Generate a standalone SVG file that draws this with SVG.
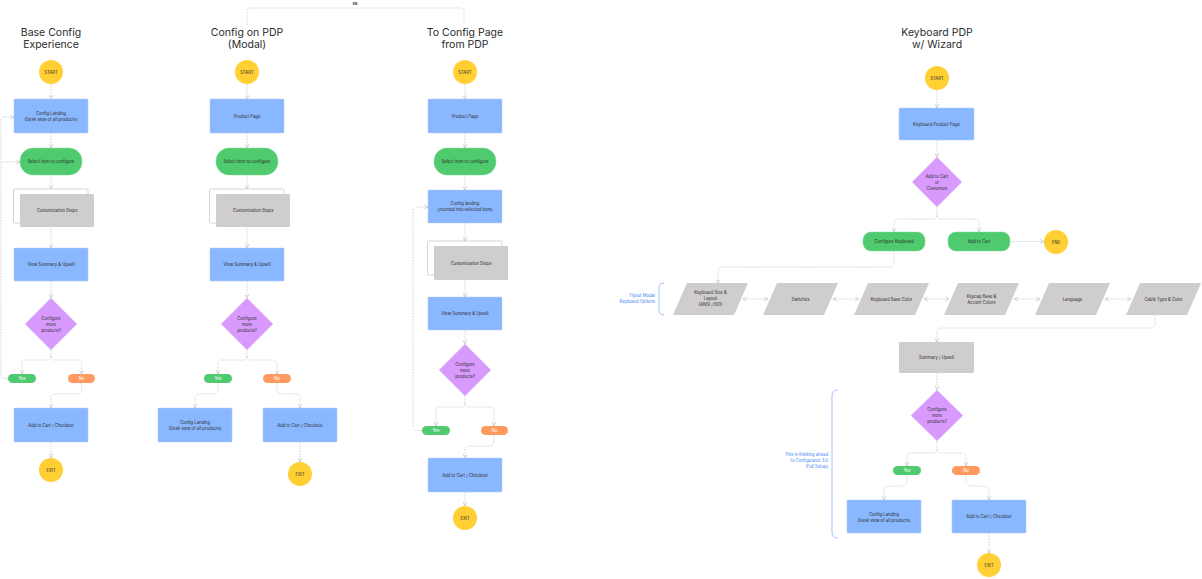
<svg xmlns="http://www.w3.org/2000/svg" width="1202" height="579" viewBox="0 0 1202 579">
<style>
.title{font-family:Inter,"Liberation Sans",sans-serif;font-size:10.5px;fill:#2b2b2b;text-anchor:middle}
.t{font-family:Inter,"Liberation Sans",sans-serif;font-size:4.2px;fill:#2a2a2a;text-anchor:middle}
.tw{font-family:Inter,"Liberation Sans",sans-serif;font-size:4.2px;fill:#ffffff;text-anchor:middle}
.tb{font-family:Inter,"Liberation Sans",sans-serif;font-size:4.2px;fill:#3b7ff0;text-anchor:end}
.circ{fill:#FFCF33}
.box{fill:#8AB8FF;stroke:#a9c9ff;stroke-width:0.5}
.pill{fill:#4FCA6E;stroke:#7fdc96;stroke-width:0.5}
.dia{fill:#D89BFD}
.yes{fill:#4FCA6E}
.no{fill:#FF9B5E}
.gray{fill:#CFCDCE}
.outline{fill:#ffffff;stroke:#c9c9c9;stroke-width:0.8}
.c{fill:none;stroke:#c4c4c4;stroke-width:0.7;stroke-dasharray:1.6 1.2;marker-end:url(#ah)}
.cn{fill:none;stroke:#c4c4c4;stroke-width:0.7;stroke-dasharray:1.6 1.2}
.cd{fill:none;stroke:#c4c4c4;stroke-width:0.7;stroke-dasharray:1.6 1.2;marker-end:url(#ah);marker-start:url(#ah)}
.br{fill:none;stroke:#8db5f7;stroke-width:0.8}
</style>
<defs>
<marker id="ah" viewBox="0 0 6 6" refX="5.2" refY="3" markerWidth="5" markerHeight="5" orient="auto-start-reverse" markerUnits="userSpaceOnUse">
<path d="M0.6,0.6 L5.2,3 L0.6,5.4" fill="none" stroke="#bcbcbc" stroke-width="0.8"/>
</marker>
</defs>
<rect width="1202" height="579" fill="#ffffff"/>

<!-- Titles -->
<g id="titles">
<text class="title" x="51" y="36">Base Config</text>
<text class="title" x="51" y="47.5">Experience</text>
<text class="title" x="247" y="36">Config on PDP</text>
<text class="title" x="247" y="47.5">(Modal)</text>
<text class="title" x="465" y="36">To Config Page</text>
<text class="title" x="465" y="47.5">from PDP</text>
<text class="title" x="937" y="36">Keyboard PDP</text>
<text class="title" x="937" y="47.5">w/ Wizard</text>
<text class="t" x="355" y="4.5" font-weight="bold">vs</text>
</g>

<!-- Connectors -->
<g id="connectors">
<path class="cn" d="M247,25 V12 Q247,8 251,8 H460 Q464,8 464,12 V22"/>
<!-- col1 -->
<path class="c" d="M51,84 V99"/>
<path class="c" d="M51,133 V148"/>
<path class="c" d="M51,175 V189"/>
<path class="c" d="M51,228 V248"/>
<path class="c" d="M51,281 V298"/>
<path class="c" d="M51,350 V356 Q51,360 47,360 H26 Q22,360 22,364 V374"/>
<path class="c" d="M51,356 Q51,360 55,360 H77.5 Q81.5,360 81.5,364 V374"/>
<path class="c" d="M81.5,383 V389 Q81.5,394 76.5,394 H56 Q51,394 51,399 V408"/>
<path class="c" d="M51,442 V458"/>
<path class="c" d="M8,378.5 H5 Q1,378.5 1,374.5 V121 Q1,117 5,117 H14"/>
<path class="c" d="M1,162 H20"/>
<!-- col2 -->
<path class="c" d="M247,84 V99"/>
<path class="c" d="M247,133 V148"/>
<path class="c" d="M247,175 V189"/>
<path class="c" d="M247,228 V248"/>
<path class="c" d="M247,281 V298"/>
<path class="c" d="M247,350 V356 Q247,360 243,360 H222 Q218,360 218,364 V374"/>
<path class="c" d="M247,356 Q247,360 251,360 H273 Q277,360 277,364 V374"/>
<path class="c" d="M218,383 V389 Q218,394 213,394 H200 Q195,394 195,399 V408"/>
<path class="c" d="M277,383 V389 Q277,394 282,394 H295 Q300,394 300,399 V408"/>
<path class="c" d="M300,442 V462"/>
<!-- col3 -->
<path class="c" d="M465,84 V99"/>
<path class="c" d="M465,133 V148"/>
<path class="c" d="M465,175 V190"/>
<path class="c" d="M465,223 V241"/>
<path class="c" d="M465,280 V297"/>
<path class="c" d="M465,330 V344"/>
<path class="c" d="M465,396 V403 Q465,407 461,407 H440 Q436,407 436,411 V426"/>
<path class="c" d="M465,403 Q465,407 469,407 H490 Q494,407 494,411 V426"/>
<path class="c" d="M494,435 V441 Q494,446 489,446 H470 Q465,446 465,451 V458"/>
<path class="c" d="M465,492 V506"/>
<path class="c" d="M422,430.5 H417 Q413,430.5 413,426.5 V211 Q413,207 417,207 H428"/>
<!-- col4 -->
<path class="c" d="M937,90 V108"/>
<path class="c" d="M937,140 V157"/>
<path class="c" d="M937,207 V215 Q937,219 933,219 H898 Q894,219 894,223 V232"/>
<path class="c" d="M937,215 Q937,219 941,219 H975 Q979,219 979,223 V232"/>
<path class="c" d="M1010,241.5 H1044"/>
<path class="c" d="M894,251 V263 Q894,267 890,267 H722 Q718,267 718,271 V283"/>
<path class="cd" d="M743,299 H768"/>
<path class="cd" d="M833,299 H859"/>
<path class="cd" d="M924,299 H949"/>
<path class="cd" d="M1014,299 H1040"/>
<path class="cd" d="M1105,299 H1131"/>
<path class="c" d="M1155,315 V324 Q1155,328 1151,328 H941 Q937,328 937,332 V342"/>
<path class="c" d="M937,373 V390"/>
<path class="c" d="M937,441 V449 Q937,453 933,453 H911 Q907,453 907,457 V466"/>
<path class="c" d="M937,449 Q937,453 941,453 H962 Q966,453 966,457 V466"/>
<path class="c" d="M907,475 V481 Q907,486 902,486 H889 Q884,486 884,491 V500"/>
<path class="c" d="M966,475 V481 Q966,486 971,486 H984 Q989,486 989,491 V500"/>
<path class="c" d="M989,533 V553"/>
</g>

<!-- Column 1 -->
<g id="c1-start"><circle class="circ" cx="51" cy="72" r="12"/><text class="t" x="51" y="73.5">START</text></g>
<g id="c1-landing"><rect class="box" x="14" y="99" width="74" height="34" rx="1"/><text class="t" x="51" y="115">Config Landing</text><text class="t" x="51" y="120.5">(Desk view of all products)</text></g>
<g id="c1-select"><rect class="pill" x="20" y="148" width="62" height="27" rx="13"/><text class="t" x="51" y="163">Select item to configure</text></g>
<g id="c1-custom"><rect class="outline" x="13.5" y="189" width="74.5" height="34" rx="1"/><rect class="gray" x="20" y="194" width="74" height="33" rx="1"/><text class="t" x="57" y="212">Customization Steps</text></g>
<g id="c1-summary"><rect class="box" x="14" y="248" width="74" height="33" rx="1"/><text class="t" x="51" y="266">View Summary &amp; Upsell</text></g>
<g id="c1-dec"><polygon class="dia" points="51,298 77,324 51,350 25,324"/><text class="t" x="51" y="319.5">Configure</text><text class="t" x="51" y="325.5">more</text><text class="t" x="51" y="331.5">products?</text></g>
<g id="c1-yes"><rect class="yes" x="8" y="374" width="28" height="9" rx="4.5"/><text class="tw" x="22" y="380">Yes</text></g>
<g id="c1-no"><rect class="no" x="68" y="374" width="27" height="9" rx="4.5"/><text class="tw" x="81.5" y="380">No</text></g>
<g id="c1-cart"><rect class="box" x="14" y="408" width="74" height="34" rx="1"/><text class="t" x="51" y="426.5">Add to Cart / Checkout</text></g>
<g id="c1-exit"><circle class="circ" cx="51" cy="470" r="12"/><text class="t" x="51" y="471.5">EXIT</text></g>

<!-- Column 2 -->
<g id="c2-start"><circle class="circ" cx="247" cy="72" r="12"/><text class="t" x="247" y="73.5">START</text></g>
<g id="c2-pdp"><rect class="box" x="210" y="99" width="74" height="34" rx="1"/><text class="t" x="247" y="117.5">Product Page</text></g>
<g id="c2-select"><rect class="pill" x="216" y="148" width="62" height="27" rx="13"/><text class="t" x="247" y="163">Select item to configure</text></g>
<g id="c2-custom"><rect class="outline" x="209.5" y="189" width="74.5" height="34" rx="1"/><rect class="gray" x="216" y="194" width="74" height="33" rx="1"/><text class="t" x="253" y="212">Customization Steps</text></g>
<g id="c2-summary"><rect class="box" x="210" y="248" width="74" height="33" rx="1"/><text class="t" x="247" y="266">View Summary &amp; Upsell</text></g>
<g id="c2-dec"><polygon class="dia" points="247,298 273,324 247,350 221,324"/><text class="t" x="247" y="319.5">Configure</text><text class="t" x="247" y="325.5">more</text><text class="t" x="247" y="331.5">products?</text></g>
<g id="c2-yes"><rect class="yes" x="204" y="374" width="28" height="9" rx="4.5"/><text class="tw" x="218" y="380">Yes</text></g>
<g id="c2-no"><rect class="no" x="263" y="374" width="28" height="9" rx="4.5"/><text class="tw" x="277" y="380">No</text></g>
<g id="c2-landing"><rect class="box" x="158" y="408" width="74" height="34" rx="1"/><text class="t" x="195" y="424">Config Landing</text><text class="t" x="195" y="429.5">(Desk view of all products)</text></g>
<g id="c2-cart"><rect class="box" x="263" y="408" width="74" height="34" rx="1"/><text class="t" x="300" y="426.5">Add to Cart / Checkout</text></g>
<g id="c2-exit"><circle class="circ" cx="300" cy="474" r="12"/><text class="t" x="300" y="475.5">EXIT</text></g>

<!-- Column 3 -->
<g id="c3-start"><circle class="circ" cx="465" cy="72" r="12"/><text class="t" x="465" y="73.5">START</text></g>
<g id="c3-pdp"><rect class="box" x="428" y="99" width="74" height="34" rx="1"/><text class="t" x="465" y="117.5">Product Page</text></g>
<g id="c3-select"><rect class="pill" x="434" y="148" width="62" height="27" rx="13"/><text class="t" x="465" y="163">Select item to configure</text></g>
<g id="c3-landing"><rect class="box" x="428" y="190" width="74" height="33" rx="1"/><text class="t" x="465" y="204.5">Config landing</text><text class="t" x="465" y="210.5">(zoomed into selected item)</text></g>
<g id="c3-custom"><rect class="outline" x="427.5" y="241" width="74.5" height="34" rx="1"/><rect class="gray" x="434" y="246" width="74" height="34" rx="1"/><text class="t" x="471" y="264.5">Customization Steps</text></g>
<g id="c3-summary"><rect class="box" x="428" y="297" width="74" height="33" rx="1"/><text class="t" x="465" y="315">View Summary &amp; Upsell</text></g>
<g id="c3-dec"><polygon class="dia" points="465,344 491,370 465,396 439,370"/><text class="t" x="465" y="365.5">Configure</text><text class="t" x="465" y="371.5">more</text><text class="t" x="465" y="377.5">products?</text></g>
<g id="c3-yes"><rect class="yes" x="422" y="426" width="28" height="9" rx="4.5"/><text class="tw" x="436" y="432">Yes</text></g>
<g id="c3-no"><rect class="no" x="481" y="426" width="27" height="9" rx="4.5"/><text class="tw" x="494.5" y="432">No</text></g>
<g id="c3-cart"><rect class="box" x="428" y="458" width="74" height="34" rx="1"/><text class="t" x="465" y="476.5">Add to Cart / Checkout</text></g>
<g id="c3-exit"><circle class="circ" cx="465" cy="518" r="12"/><text class="t" x="465" y="519.5">EXIT</text></g>

<!-- Column 4 -->
<g id="c4-start"><circle class="circ" cx="937" cy="78" r="12"/><text class="t" x="937" y="79.5">START</text></g>
<g id="c4-pdp"><rect class="box" x="899" y="108" width="75" height="32" rx="1"/><text class="t" x="936.5" y="125.5">Keyboard Product Page</text></g>
<g id="c4-dec1"><polygon class="dia" points="937,157 962,182 937,207 912,182"/><text class="t" x="937" y="177.5">Add to Cart</text><text class="t" x="937" y="183.5">or</text><text class="t" x="937" y="189.5">Customize</text></g>
<g id="c4-configure"><rect class="pill" x="863" y="232" width="62" height="19" rx="8"/><text class="t" x="894" y="243">Configure Keyboard</text></g>
<g id="c4-addcart"><rect class="pill" x="948" y="232" width="62" height="19" rx="8"/><text class="t" x="979" y="243">Add to Cart</text></g>
<g id="c4-end"><circle class="circ" cx="1056" cy="242" r="12"/><text class="t" x="1056" y="243.5">END</text></g>
<g id="c4-size"><polygon class="gray" points="673,315 687,283 748,283 734,315"/><text class="t" x="710.5" y="294">Keyboard Size &amp;</text><text class="t" x="710.5" y="300">Layout</text><text class="t" x="710.5" y="306">(ANSI / ISO)</text></g>
<g id="c4-switches"><polygon class="gray" points="763,315 777,283 838,283 824,315"/><text class="t" x="800.5" y="300.5">Switches</text></g>
<g id="c4-basecolor"><polygon class="gray" points="854,315 868,283 929,283 915,315"/><text class="t" x="891.5" y="300.5">Keyboard Base Color</text></g>
<g id="c4-keycap"><polygon class="gray" points="944,315 958,283 1019,283 1005,315"/><text class="t" x="981.5" y="297.5">Keycap Base &amp;</text><text class="t" x="981.5" y="303.5">Accent Colors</text></g>
<g id="c4-language"><polygon class="gray" points="1035,315 1049,283 1110,283 1096,315"/><text class="t" x="1072.5" y="300.5">Language</text></g>
<g id="c4-cable"><polygon class="gray" points="1126,315 1140,283 1201,283 1187,315"/><text class="t" x="1163.5" y="300.5">Cable Type &amp; Color</text></g>
<g id="c4-flyout"><path class="br" d="M664,283 Q659,283 659,288 V310 Q659,315 664,315"/><text class="tb" x="655" y="297">Flyout Modal</text><text class="tb" x="655" y="303">Keyboard Options</text></g>
<g id="c4-summary"><rect class="gray" x="899" y="342" width="75" height="31" rx="1"/><text class="t" x="936.5" y="359">Summary / Upsell</text></g>
<g id="c4-dec2"><polygon class="dia" points="937,390 963,415.5 937,441 911,415.5"/><text class="t" x="937" y="410.5">Configure</text><text class="t" x="937" y="416.5">more</text><text class="t" x="937" y="422.5">products?</text></g>
<g id="c4-yes"><rect class="yes" x="893" y="466" width="28" height="9" rx="4.5"/><text class="tw" x="907" y="472">Yes</text></g>
<g id="c4-no"><rect class="no" x="952" y="466" width="28" height="9" rx="4.5"/><text class="tw" x="966" y="472">No</text></g>
<g id="c4-landing"><rect class="box" x="847" y="500" width="74" height="33" rx="1"/><text class="t" x="884" y="515.5">Config Landing</text><text class="t" x="884" y="521.5">(Desk view of all products)</text></g>
<g id="c4-cart"><rect class="box" x="952" y="500" width="74" height="33" rx="1"/><text class="t" x="989" y="518">Add to Cart / Checkout</text></g>
<g id="c4-exit"><circle class="circ" cx="989" cy="565" r="12"/><text class="t" x="989" y="566.5">EXIT</text></g>
<g id="c4-note"><path class="br" d="M838,390 Q832,390 832,396 V532 Q832,538 838,538"/><text class="tb" x="828" y="456">This is thinking ahead</text><text class="tb" x="828" y="462">to Configurator 3.0</text><text class="tb" x="828" y="468">(Full Setup)</text></g>
</svg>
